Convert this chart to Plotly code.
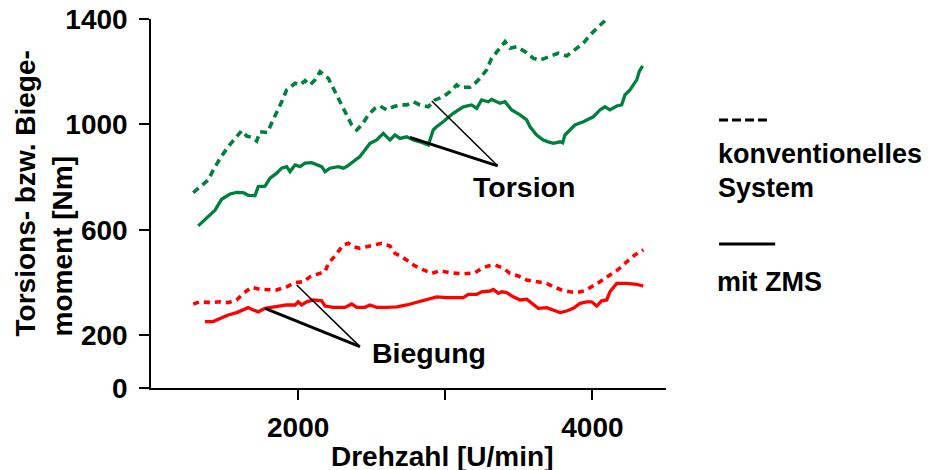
import plotly.graph_objects as go

# ---- data ----
tors_konv_rpm = [1287, 1333, 1389, 1423, 1469, 1525, 1571, 1616, 1650, 1684, 1718, 1741, 1790, 1820,
                 1854, 1888, 1922, 1979, 2013, 2047, 2081, 2115, 2149, 2205, 2239, 2273, 2307, 2341,
                 2364, 2398, 2432, 2477, 2522, 2556, 2602, 2647, 2692, 2738, 2783, 2828, 2885, 2930,
                 2986, 3032, 3077, 3100, 3168, 3202, 3236, 3281, 3315, 3360, 3406, 3440, 3485, 3553,
                 3598, 3644, 3712, 3768, 3825, 3881, 3938, 3983, 4029, 4085]
tors_konv_nm = [741, 764, 789, 827, 871, 916, 947, 976, 956, 951, 937, 972, 969, 1004,
                1042, 1086, 1131, 1156, 1150, 1166, 1150, 1169, 1200, 1175, 1137, 1099, 1061, 1029,
                998, 979, 998, 1036, 1061, 1070, 1055, 1067, 1074, 1074, 1086, 1074, 1067, 1093,
                1105, 1124, 1150, 1141, 1141, 1156, 1175, 1207, 1251, 1282, 1314, 1289, 1295, 1272,
                1251, 1244, 1257, 1270, 1260, 1282, 1308, 1339, 1365, 1394]

tors_zms_rpm = [1321, 1379, 1435, 1480, 1537, 1582, 1627, 1661, 1707, 1729, 1775, 1809, 1854, 1888,
                1922, 1945, 1979, 2013, 2047, 2092, 2126, 2160, 2183, 2216, 2273, 2307, 2330, 2375,
                2420, 2454, 2488, 2534, 2579, 2602, 2624, 2658, 2692, 2738, 2783, 2828, 2885, 2918,
                2941, 2986, 3054, 3122, 3179, 3213, 3247, 3292, 3315, 3372, 3406, 3451, 3508, 3553,
                3576, 3621, 3666, 3700, 3734, 3780, 3798, 3813, 3836, 3881, 3938, 4006, 4051, 4085,
                4119, 4165, 4199, 4221, 4255, 4301, 4318, 4341]
tors_zms_nm = [615, 644, 675, 716, 736, 742, 741, 731, 730, 764, 766, 796, 815, 834,
               840, 821, 846, 840, 853, 855, 846, 840, 821, 834, 840, 834, 840, 859,
               878, 903, 928, 941, 966, 953, 941, 960, 947, 953, 941, 934, 922, 979,
               991, 1010, 1042, 1067, 1074, 1061, 1093, 1086, 1095, 1080, 1086, 1055, 1036, 1017,
               991, 960, 941, 934, 928, 934, 930, 960, 972, 998, 1010, 1029, 1055, 1067,
               1055, 1070, 1074, 1112, 1131, 1169, 1200, 1222]

bieg_konv_rpm = [1287, 1333, 1401, 1469, 1525, 1582, 1627, 1684, 1741, 1797, 1854, 1922, 1979, 2035,
                 2081, 2137, 2183, 2205, 2250, 2307, 2341, 2375, 2420, 2466, 2522, 2568, 2624, 2658,
                 2704, 2738, 2794, 2851, 2908, 2964, 3032, 3122, 3202, 3247, 3292, 3338, 3395, 3440,
                 3496, 3553, 3621, 3689, 3734, 3791, 3848, 3893, 3949, 3995, 4051, 4119, 4176, 4233,
                 4289, 4346]
bieg_konv_nm = [319, 327, 324, 327, 324, 334, 359, 382, 374, 372, 372, 384, 400, 403,
                422, 433, 441, 473, 501, 543, 549, 536, 530, 536, 543, 549, 539, 511,
                498, 486, 463, 448, 435, 445, 437, 433, 437, 454, 463, 467, 454, 435,
                425, 410, 403, 397, 384, 372, 365, 362, 369, 384, 403, 429, 450, 479,
                505, 524]

bieg_zms_rpm = [1367, 1423, 1469, 1525, 1582, 1627, 1661, 1695, 1729, 1775, 1820, 1854, 1922, 1979,
                2001, 2024, 2058, 2103, 2160, 2183, 2239, 2318, 2364, 2398, 2454, 2488, 2534, 2602,
                2670, 2738, 2817, 2896, 2941, 3009, 3122, 3156, 3213, 3247, 3304, 3327, 3360, 3383,
                3417, 3462, 3508, 3553, 3598, 3632, 3689, 3746, 3780, 3825, 3870, 3916, 3961, 3995,
                4029, 4063, 4097, 4119, 4165, 4233, 4301, 4346]
bieg_zms_nm = [252, 252, 264, 277, 286, 296, 305, 296, 289, 302, 306, 311, 315, 315,
               327, 315, 327, 334, 331, 311, 306, 306, 319, 306, 306, 315, 306, 306,
               308, 315, 327, 340, 346, 343, 343, 355, 355, 365, 368, 374, 359, 365,
               362, 346, 334, 337, 315, 302, 305, 293, 286, 292, 302, 321, 327, 327,
               311, 331, 334, 365, 397, 397, 393, 387]

x_tickvals = [2000, 3000, 4000]
x_ticktext = ["2000", "", "4000"]
y_tickvals = [0, 200, 600, 1000, 1400]
y_ticktext = ["0", "200", "600", "1000", "1400"]

# leader lines for labels: (rpm, Nm) pairs
torsion_vertex = (3356, 843)
torsion_to_konv = (2908, 1089)
torsion_to_zms = (2760, 951)
biegung_vertex = (2420, 157)
biegung_to_konv = (1990, 391)
biegung_to_zms = (1775, 302)

GREEN = "#00803f"
RED = "#ff0000"
FONT = "Liberation Sans, Arial, sans-serif"

fig = go.Figure()
fig.add_trace(go.Scatter(x=tors_konv_rpm, y=tors_konv_nm, mode="lines",
                         line=dict(color=GREEN, width=3.6, dash="7px,5px")))
fig.add_trace(go.Scatter(x=tors_zms_rpm, y=tors_zms_nm, mode="lines",
                         line=dict(color=GREEN, width=3.3)))
fig.add_trace(go.Scatter(x=bieg_konv_rpm, y=bieg_konv_nm, mode="lines",
                         line=dict(color=RED, width=3.6, dash="6px,5px")))
fig.add_trace(go.Scatter(x=bieg_zms_rpm, y=bieg_zms_nm, mode="lines",
                         line=dict(color=RED, width=3.3)))

shapes = []
for (v, end, w) in [(torsion_vertex, torsion_to_konv, 1.5), (torsion_vertex, torsion_to_zms, 3),
                    (biegung_vertex, biegung_to_konv, 1.5), (biegung_vertex, biegung_to_zms, 3)]:
    shapes.append(dict(type="line", xref="x", yref="y", x0=v[0], y0=v[1], x1=end[0], y1=end[1],
                       line=dict(color="black", width=w)))

# legend-like marks at right
shapes.append(dict(type="line", xref="paper", yref="paper", x0=1.103, x1=1.196, y0=0.726, y1=0.726,
                   line=dict(color="black", width=3, dash="9px,4px")))
shapes.append(dict(type="line", xref="paper", yref="paper", x0=1.103, x1=1.212, y0=0.390, y1=0.390,
                   line=dict(color="black", width=3)))

bold = dict(family=FONT, size=28, color="black")
legend_font = dict(family=FONT, size=27, color="black")
annotations = [
    dict(text="<b>Torsion</b>", x=3532, y=763, xref="x", yref="y", showarrow=False,
         font=dict(family=FONT, size=28.5, color="black")),
    dict(text="<b>Biegung</b>", x=2889, y=133, xref="x", yref="y", showarrow=False,
         font=dict(family=FONT, size=28.5, color="black")),
    dict(text="<b>konventionelles</b>", x=1.097, y=0.634, xref="paper", yref="paper",
         xanchor="left", yanchor="middle", showarrow=False, font=legend_font),
    dict(text="<b>System</b>", x=1.097, y=0.542, xref="paper", yref="paper",
         xanchor="left", yanchor="middle", showarrow=False, font=legend_font),
    dict(text="<b>mit ZMS</b>", x=1.095, y=0.287, xref="paper", yref="paper",
         xanchor="left", yanchor="middle", showarrow=False, font=legend_font),
    dict(text="<b>Drehzahl [U/min]</b>", x=0.565, y=-0.185, xref="paper", yref="paper",
         xanchor="center", yanchor="middle", showarrow=False, font=bold),
    dict(text="<b>Torsions- bzw. Biege-</b><br><b>moment [Nm]</b>", x=-0.208, y=0.527,
         xref="paper", yref="paper", xanchor="center", yanchor="middle", textangle=-90,
         align="left", showarrow=False, font=bold),
]

# page body has an 8px margin: shrink figure so window pixel positions match
fig.update_layout(
    width=924, height=462,
    margin=dict(l=143, r=266, t=11, b=82, autoexpand=False),
    paper_bgcolor="white", plot_bgcolor="white",
    showlegend=False,
    shapes=shapes, annotations=annotations,
    xaxis=dict(range=[1000, 4500], showgrid=False, zeroline=False, showline=True,
               automargin=False,
               linecolor="black", linewidth=1.5, ticks="outside", ticklen=10, tickwidth=2,
               tickcolor="black", tickvals=x_tickvals, ticktext=x_ticktext,
               tickfont=dict(family=FONT, size=28, color="black", weight="bold"),
               ticklabelstandoff=4, ticklabeloverflow="allow"),
    yaxis=dict(range=[0, 1400], showgrid=False, zeroline=False, showline=True,
               automargin=False,
               linecolor="black", linewidth=1.5, ticks="outside", ticklen=10, tickwidth=1.5,
               tickcolor="black", tickvals=y_tickvals, ticktext=y_ticktext,
               tickfont=dict(family=FONT, size=28, color="black", weight="bold"),
               ticklabelstandoff=6, ticklabeloverflow="allow"),
)

fig.write_html("out.html")
